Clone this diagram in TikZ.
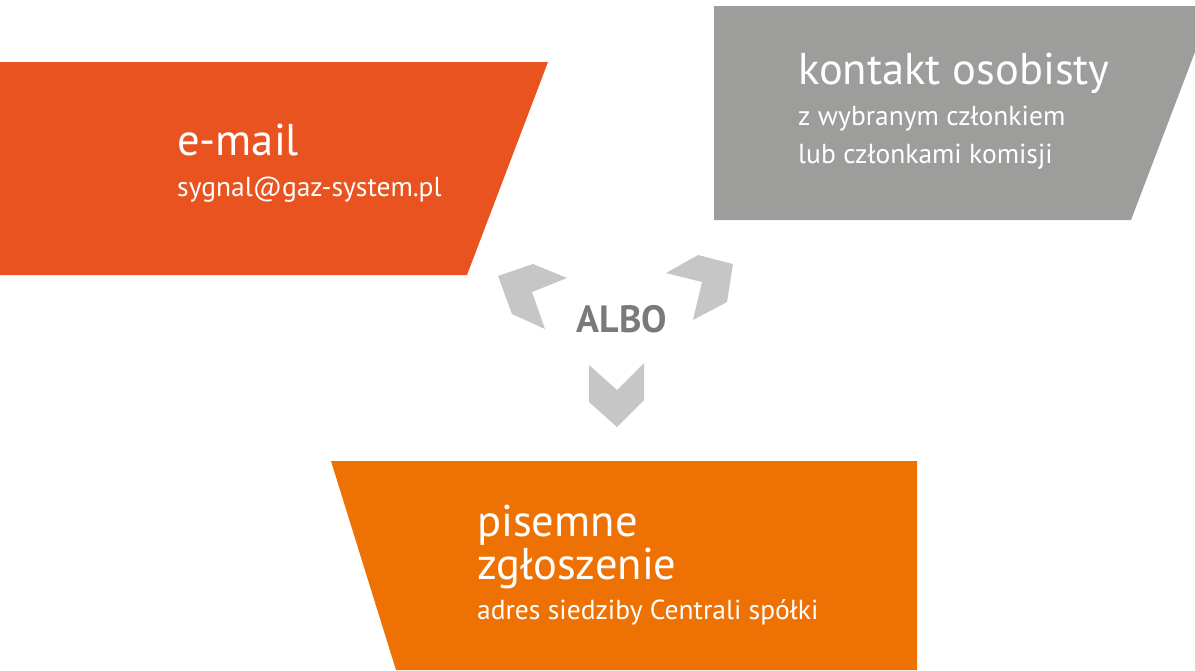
\documentclass[tikz,border=0pt]{standalone}
\usepackage{fontspec}
\setmainfont{PT Sans}
\usetikzlibrary{positioning}
\definecolor{mail}{HTML}{E8531F}
\definecolor{pismo}{HTML}{EE7203}
\definecolor{osob}{HTML}{9D9D9C}
\definecolor{chev}{HTML}{C6C6C6}
\definecolor{albo}{HTML}{7A7A7A}
\tikzset{
  panel/.style={draw=none},
  head/.style={text=white,font=\fontsize{44.5}{48}\selectfont,anchor=base west,inner sep=0pt},
  sub/.style={text=white,font=\fontsize{27.5}{32}\selectfont,anchor=base west,inner sep=0pt},
  chevron/.style={fill=chev,draw=none},
}

\begin{document}
\begin{tikzpicture}[x=1pt,y=-1pt]
\useasboundingbox (0,0) rectangle (1195,670);
% panels
\fill[panel,mail] (0,62) -- (548,62) -- (467,275) -- (0,275) -- cycle;
\fill[panel,osob] (714,6) -- (1195,6) -- (1195,52) -- (1131,220) -- (714,220) -- cycle;
\fill[panel,pismo] (331,461) -- (917,461) -- (917,670) -- (396,670) -- cycle;
% texts
\node[head] (mailhd) at (177,155) {e-mail};
\node[sub] (mailsub) at (177,196) {sygnal@gaz-system.pl};
\node[head] (osobhd) at (798,84) {kontakt osobisty};
\node[sub] (osobsub1) at (798,125) {z wybranym członkiem};
\node[sub] (osobsub2) at (798,163) {lub członkami komisji};
\node[head] (pismohd1) at (477,536) {pisemne};
\node[head] (pismohd2) at (477,579) {zgłoszenie};
\node[sub] (pismosub) at (477,619) {adres siedziby Centrali spółki};
\node[text=albo,font=\bfseries\fontsize{38}{42}\selectfont,inner sep=0pt] (albo) at (622,319) {ALBO};
% chevrons
\fill[chevron] (498,276) -- (533,264) -- (567,278) -- (532,292) -- (545,329) -- (512,314) -- cycle;
\fill[chevron] (666,273) -- (698,255) -- (733,264) -- (727,302) -- (693,320) -- (702,282) -- cycle;
\fill[chevron] (589,365) -- (617,390) -- (644,363) -- (644,400) -- (617,427) -- (589,402) -- cycle;
\end{tikzpicture}
\end{document}
